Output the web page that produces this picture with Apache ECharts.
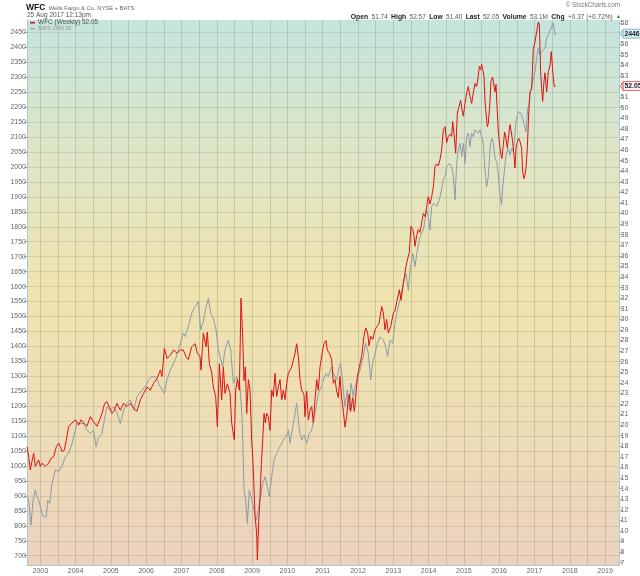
<!DOCTYPE html>
<html><head><meta charset="utf-8">
<script src="https://cdn.jsdelivr.net/npm/echarts@6/dist/echarts.min.js"></script>
<style>html,body{margin:0;padding:0;background:#fff}#c{width:640px;height:576px}</style>
</head><body><div id="c"></div>
<script>
// Decimal-year dates and values
const spxT = [2002.623,2002.670,2002.736,2002.793,2002.859,2002.906,2002.954,2003.048,2003.095,2003.171,2003.208,2003.265,2003.331,2003.426,2003.520,2003.615,2003.709,2003.803,2003.898,2003.992,2004.039,2004.134,2004.228,2004.323,2004.417,2004.512,2004.578,2004.653,2004.748,2004.814,2004.889,2004.984,2005.078,2005.173,2005.267,2005.361,2005.456,2005.550,2005.645,2005.739,2005.881,2005.975,2006.070,2006.164,2006.259,2006.400,2006.513,2006.589,2006.683,2006.825,2006.967,2007.052,2007.100,2007.194,2007.289,2007.383,2007.477,2007.543,2007.619,2007.695,2007.761,2007.827,2007.902,2007.978,2008.044,2008.091,2008.167,2008.233,2008.327,2008.393,2008.469,2008.563,2008.658,2008.724,2008.771,2008.818,2008.865,2008.922,2008.988,2009.054,2009.111,2009.177,2009.243,2009.300,2009.366,2009.432,2009.489,2009.555,2009.621,2009.696,2009.791,2009.885,2009.961,2010.027,2010.074,2010.169,2010.263,2010.339,2010.404,2010.470,2010.546,2010.621,2010.688,2010.782,2010.876,2010.971,2011.018,2011.094,2011.160,2011.254,2011.301,2011.396,2011.471,2011.509,2011.566,2011.632,2011.698,2011.755,2011.802,2011.868,2011.915,2011.981,2012.057,2012.151,2012.217,2012.293,2012.359,2012.416,2012.482,2012.548,2012.623,2012.718,2012.784,2012.840,2012.907,2012.982,2013.048,2013.095,2013.190,2013.284,2013.360,2013.426,2013.473,2013.549,2013.615,2013.681,2013.756,2013.851,2013.898,2013.945,2013.992,2014.040,2014.087,2014.153,2014.228,2014.304,2014.370,2014.417,2014.465,2014.512,2014.587,2014.653,2014.701,2014.748,2014.795,2014.842,2014.889,2014.937,2014.984,2015.031,2015.078,2015.126,2015.173,2015.220,2015.267,2015.314,2015.362,2015.409,2015.456,2015.503,2015.550,2015.598,2015.645,2015.692,2015.739,2015.786,2015.833,2015.881,2015.928,2015.975,2016.022,2016.070,2016.098,2016.136,2016.192,2016.258,2016.306,2016.353,2016.400,2016.476,2016.542,2016.608,2016.664,2016.712,2016.759,2016.806,2016.844,2016.872,2016.919,2016.967,2017.014,2017.061,2017.108,2017.155,2017.203,2017.250,2017.297,2017.344,2017.392,2017.439,2017.486,2017.533,2017.580,2017.599];
const spxV = [897,886,802,886,920,897,886,842,830,830,886,875,942,987,982,1000,1031,1042,1076,1120,1142,1142,1142,1120,1109,1120,1065,1098,1109,1154,1198,1187,1198,1176,1142,1187,1210,1221,1187,1232,1254,1266,1288,1299,1299,1266,1243,1288,1321,1355,1410,1444,1433,1466,1511,1533,1550,1455,1483,1533,1561,1511,1494,1455,1388,1366,1332,1388,1421,1388,1277,1299,1266,1143,920,886,808,920,886,853,819,853,897,942,964,931,897,964,1020,1042,1065,1087,1098,1120,1076,1143,1210,1120,1087,1104,1076,1109,1120,1176,1243,1266,1288,1310,1299,1332,1310,1288,1332,1344,1277,1198,1254,1187,1277,1232,1266,1288,1321,1366,1410,1377,1288,1344,1377,1410,1432,1421,1399,1366,1421,1410,1477,1510,1555,1611,1644,1588,1650,1711,1667,1722,1767,1789,1822,1857,1834,1789,1868,1879,1868,1890,1924,1957,1968,2001,2012,2001,1968,1890,2012,2057,2079,2035,2079,2012,2101,2113,2068,2113,2101,2124,2129,2113,2124,2101,2079,1990,1934,1968,2057,2096,2085,2029,2018,1974,1907,1873,1930,1974,2040,2063,2040,2063,2052,2152,2185,2180,2163,2141,2118,2196,2207,2241,2269,2274,2319,2363,2397,2375,2386,2386,2397,2431,2442,2442,2470,2481,2442,2446.05];

const wfcT = [2002.623,2002.670,2002.717,2002.765,2002.812,2002.859,2002.906,2002.954,2003.001,2003.048,2003.142,2003.190,2003.237,2003.303,2003.378,2003.454,2003.520,2003.567,2003.615,2003.681,2003.737,2003.803,2003.898,2003.992,2004.087,2004.153,2004.228,2004.323,2004.417,2004.512,2004.606,2004.682,2004.748,2004.823,2004.889,2004.965,2005.031,2005.097,2005.173,2005.267,2005.361,2005.456,2005.550,2005.645,2005.739,2005.834,2005.928,2006.022,2006.117,2006.211,2006.306,2006.400,2006.447,2006.513,2006.589,2006.683,2006.778,2006.872,2006.967,2007.052,2007.128,2007.194,2007.289,2007.383,2007.449,2007.524,2007.553,2007.619,2007.695,2007.732,2007.789,2007.855,2007.902,2007.968,2008.016,2008.072,2008.138,2008.186,2008.233,2008.299,2008.374,2008.422,2008.497,2008.535,2008.582,2008.639,2008.686,2008.733,2008.771,2008.809,2008.847,2008.894,2008.941,2008.988,2009.035,2009.083,2009.130,2009.149,2009.187,2009.224,2009.262,2009.300,2009.338,2009.376,2009.413,2009.461,2009.508,2009.555,2009.602,2009.649,2009.696,2009.744,2009.791,2009.838,2009.885,2009.933,2009.980,2010.027,2010.121,2010.216,2010.263,2010.310,2010.357,2010.404,2010.470,2010.499,2010.546,2010.593,2010.640,2010.688,2010.735,2010.782,2010.829,2010.876,2010.924,2010.999,2011.037,2011.094,2011.131,2011.188,2011.254,2011.301,2011.348,2011.396,2011.443,2011.490,2011.537,2011.585,2011.632,2011.679,2011.726,2011.755,2011.792,2011.849,2011.896,2011.934,2011.981,2012.038,2012.104,2012.170,2012.217,2012.274,2012.312,2012.359,2012.416,2012.482,2012.529,2012.595,2012.671,2012.718,2012.765,2012.812,2012.859,2012.926,2013.001,2013.048,2013.095,2013.171,2013.218,2013.284,2013.360,2013.397,2013.454,2013.501,2013.549,2013.586,2013.615,2013.662,2013.709,2013.756,2013.803,2013.851,2013.898,2013.945,2013.992,2014.040,2014.087,2014.134,2014.181,2014.228,2014.275,2014.323,2014.370,2014.417,2014.465,2014.512,2014.559,2014.606,2014.653,2014.682,2014.719,2014.767,2014.814,2014.861,2014.908,2014.946,2014.984,2015.031,2015.078,2015.126,2015.173,2015.220,2015.267,2015.314,2015.362,2015.409,2015.437,2015.475,2015.503,2015.550,2015.569,2015.598,2015.626,2015.664,2015.692,2015.739,2015.767,2015.815,2015.852,2015.881,2015.909,2015.947,2015.975,2016.022,2016.051,2016.079,2016.117,2016.154,2016.192,2016.230,2016.268,2016.306,2016.343,2016.381,2016.419,2016.447,2016.476,2016.513,2016.551,2016.589,2016.636,2016.664,2016.702,2016.730,2016.759,2016.797,2016.834,2016.872,2016.919,2016.967,2017.014,2017.061,2017.108,2017.137,2017.174,2017.203,2017.231,2017.269,2017.297,2017.344,2017.392,2017.439,2017.476,2017.505,2017.533,2017.561,2017.599];
const wfcV = [17.96,17.02,15.76,16.6,17.34,16.1,16.4,16.7,16.1,16.4,16.1,16.1,16.4,16.87,17.02,17.96,18.3,17.96,17.5,17.65,18.6,19.86,20.2,20.5,20.0,20.5,20.2,19.9,20.8,20.3,19.9,20.5,21.1,22.07,22.2,21.6,21.1,21.4,22.07,21.4,22.07,21.75,22.07,21.6,21.3,22.4,23.0,23.6,23.3,23.96,24.4,25.2,24.6,27.26,26.3,26.6,27.1,26.8,27.1,27.1,26.47,26.2,27.4,27.7,26.8,26.47,25.2,28.7,27.4,28.8,25.8,25.0,23.6,22.7,19.86,25.8,22.4,25.5,23.0,23.9,23.0,20.2,18.6,23.3,24.3,23.3,32.0,28.4,24.2,25.5,21.1,24.3,23.3,18.6,15.76,11.35,9.78,7.25,10.9,13.2,16.3,18.6,21.1,20.2,21.1,20.8,19.5,23.3,22.7,24.9,22.7,23.6,24.3,22.4,23.3,22.4,23.96,24.9,25.5,26.8,27.7,26.5,24.3,23.3,22.9,20.8,23.2,20.5,21.4,21.75,20.2,22.4,24.3,23.3,25.5,27.1,27.7,28.0,27.1,26.8,26.2,23.96,24.3,23.2,22.6,24.6,22.6,21.3,19.8,20.8,22.6,22.9,21.3,22.6,21.3,22.6,24.6,25.5,26.5,28.4,29.2,28.7,27.5,28.4,28.1,29.0,29.3,29.6,31.2,30.6,29.0,30.0,28.7,29.3,30.6,30.8,30.9,32.8,31.8,33.4,35.0,35.6,36.3,38.8,38.5,37.9,36.9,37.9,38.5,38.2,39.1,40.0,39.7,40.6,41.6,40.9,41.6,42.5,44.4,44.7,44.5,45.1,46.0,47.9,48.2,46.7,47.3,47.5,47.3,48.7,47.6,45.7,49.5,50.1,50.7,49.8,49.2,50.4,51.4,52.0,51.05,50.4,51.4,52.3,52.0,53.0,53.9,53.6,54.1,54.1,53.0,50.7,49.5,48.2,48.5,50.6,52.5,52.9,52.8,51.5,52.2,49.6,47.7,46.2,45.5,45.2,46.5,47.7,47.1,46.2,47.4,48.4,47.7,46.8,45.5,44.3,46.2,46.8,47.1,46.8,46.2,44.0,43.3,43.6,44.3,46.2,49.3,51.5,51.8,55.6,56.2,57.2,58.1,57.9,53.4,51.8,50.6,52.5,53.3,51.5,53.4,54.0,55.3,54.0,52.8,52.0,52.05];

const yearLabels = [2003,2004,2005,2006,2007,2008,2009,2010,2011,2012,2013,2014,2015,2016,2017,2018,2019];
const halfYearLines = [2003,2003.5,2004,2004.5,2005,2005.5,2006,2006.5,2007,2007.5,2008,2008.5,2009,2009.5,2010,2010.5,2011,2011.5,2012,2012.5,2013,2013.5,2014,2014.5,2015,2015.5,2016,2016.5,2017,2017.5,2018,2018.5,2019];
const leftTicks = [700,750,800,850,900,950,1000,1050,1100,1150,1200,1250,1300,1350,1400,1450,1500,1550,1600,1650,1700,1750,1800,1850,1900,1950,2000,2050,2100,2150,2200,2250,2300,2350,2400,2450];
const rightTicks = [7,8,9,10,11,12,13,14,15,16,17,18,19,20,21,22,23,24,25,26,27,28,29,30,31,32,33,34,35,36,37,38,39,40,41,42,43,44,45,46,47,48,49,50,51,52,53,54,55,56,57,58];
const wfcLast = 52.05, spxLast = 2446.05;

const FONT = 'Liberation Sans, Arial, sans-serif';
const chart = echarts.init(document.getElementById('c'), null, {renderer:'canvas'});
const bg = {type:'linear', x:0, y:0, x2:0, y2:1, colorStops:[
  {offset:0, color:'#c4e4de'}, {offset:0.25, color:'#dfe5c6'}, {offset:0.5, color:'#efe3ae'},
  {offset:0.75, color:'#eedcb6'}, {offset:1, color:'#ebd2bf'}]};
const axisBlue = '#a9c7d8';
const plain = v => String(Math.round(v));
chart.setOption({
  animation:false,
  backgroundColor:'#ffffff',
  grid:{left:27, right:20.5, top:20, bottom:11, show:true, backgroundColor:bg, borderWidth:0},
  xAxis:{type:'value', min:2002.623, max:2019.408,
    axisLine:{show:true, lineStyle:{color:axisBlue, width:1}},
    axisTick:{show:false, customValues:halfYearLines},
    axisLabel:{customValues:yearLabels, formatter:plain, color:'#666', fontSize:7, fontFamily:FONT, margin:3},
    splitLine:{show:true, lineStyle:{color:'rgba(120,135,95,0.3)', width:1}}},
  yAxis:[
    {type:'value', position:'left', min:668.9, max:2491.6,
      axisLine:{show:true, lineStyle:{color:axisBlue, width:1}},
      axisTick:{show:true, length:3, customValues:leftTicks, lineStyle:{color:'#aaa'}},
      axisLabel:{customValues:leftTicks, formatter:plain, color:'#666', fontSize:7, fontFamily:FONT, margin:1},
      splitLine:{show:true, lineStyle:{color:'rgba(120,135,95,0.2)', width:1}}},
    {type:'value', position:'right', min:6.78, max:58.29,
      axisLine:{show:true, lineStyle:{color:axisBlue, width:1}},
      axisTick:{show:true, length:3, customValues:rightTicks, lineStyle:{color:'#aaa'}},
      axisLabel:{customValues:rightTicks, formatter:plain, color:'#666', fontSize:7, fontFamily:FONT, margin:1},
      splitLine:{show:false}}
  ],
  series:[
    {type:'line', name:'$SPX', xAxisIndex:0, yAxisIndex:0, showSymbol:false, silent:true, z:2,
      data: spxT.map((t,i)=>[t, spxV[i]]), lineStyle:{color:'#8c9ba8', width:1}},
    {type:'line', name:'WFC', xAxisIndex:0, yAxisIndex:1, showSymbol:false, silent:true, z:3,
      data: wfcT.map((t,i)=>[t, wfcV[i]]), lineStyle:{color:'#e01010', width:1}}
  ],
  graphic:[
    {id:'t1', type:'text', left:26, top:2, style:{text:'{b|WFC} {s|Wells Fargo & Co. NYSE + BATS}', rich:{
      b:{fontWeight:'bold', fontSize:8.5, fill:'#111', fontFamily:FONT},
      s:{fontSize:5.8, fill:'#666', fontFamily:FONT}}}},
    {id:'t2', type:'text', left:27, top:11.5, style:{text:'25 Aug 2017 12:13pm', fontSize:6.5, fill:'#555', fontFamily:FONT}},
    {id:'t3', type:'text', right:20, top:2, style:{text:'© StockCharts.com', fontSize:6.3, fill:'#777', fontFamily:FONT}},
    {id:'t4', type:'text', right:19, top:11, style:{
      text:'{b|Open} {n|51.74} {b|High} {n|52.57} {b|Low} {n|51.40} {b|Last} {n|52.05} {b|Volume} {n|53.1M} {b|Chg} {n|+0.37 (+0.72%)} {u|▲}',
      rich:{b:{fontWeight:'bold', fontSize:6.8, fill:'#222', fontFamily:FONT},
            n:{fontSize:6.5, fill:'#555', fontFamily:FONT},
            u:{fontSize:5, fill:'#2a7a2a', fontFamily:FONT}}}},
    {id:'l1', type:'line', shape:{x1:30, y1:22.7, x2:35, y2:22.7}, style:{stroke:'#e01010', lineWidth:1.6}, z:10},
    {id:'l1t', type:'text', left:38, top:19, style:{text:'WFC (Weekly) 52.05', fontSize:6.5, fill:'#555', fontFamily:FONT}, z:10},
    {id:'l2', type:'line', shape:{x1:30, y1:28.7, x2:35, y2:28.7}, style:{stroke:'#9aa6b0', lineWidth:1.4}, z:10},
    {id:'l2t', type:'text', left:38, top:26, style:{text:'$SPX 2446.05', fontSize:5.2, fill:'#999', fontFamily:FONT}, z:10}
  ]
});

// value tags on the right axis, placed through the axes' own scales
const ySpx = chart.convertToPixel({yAxisIndex:0}, spxLast);
const yWfc = chart.convertToPixel({yAxisIndex:1}, wfcLast);
const x0 = chart.convertToPixel({xAxisIndex:0}, 2019.408);
function tag(id, y, txt, fillC, strokeC){
  return [
    {id:id+'p', type:'polygon', z:20, shape:{points:[[x0+1,y],[x0+4,y-4.5],[x0+4,y+4.5]]}, style:{fill:fillC, stroke:strokeC, lineWidth:0.8}},
    {id:id+'t', type:'text', z:21, x:x0+4, y:y, style:{text:txt, fontSize:6.8, fontWeight:'bold', fill:'#223', fontFamily:FONT,
      verticalAlign:'middle', align:'left', backgroundColor:fillC, borderColor:strokeC, borderWidth:0.8, padding:[1,2,0,1]}}
  ];
}
chart.setOption({graphic: [].concat(
  tag('gs', ySpx, spxLast.toFixed(1), '#d6eef2', '#7fb0c4'),
  tag('gw', yWfc, wfcLast.toFixed(2), '#fdeeee', '#e04040')
)});
</script></body></html>
